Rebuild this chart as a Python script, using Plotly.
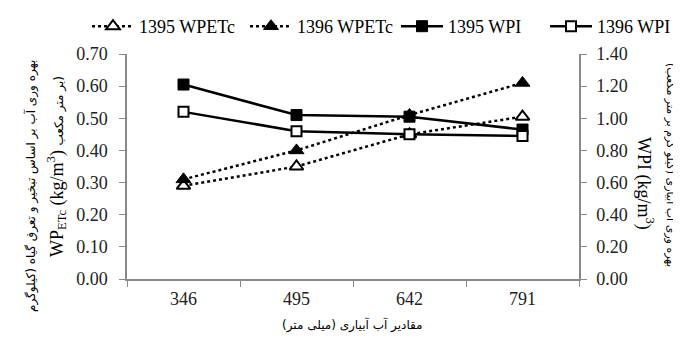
import plotly.graph_objects as go

irrigation = ["346", "495", "642", "791"]
wpetc_1395 = [0.29, 0.35, 0.45, 0.505]
wpetc_1396 = [0.31, 0.40, 0.51, 0.61]
wpi_1395 = [1.21, 1.02, 1.01, 0.93]
wpi_1396 = [1.04, 0.92, 0.90, 0.89]
series_names = ["1395 WPETc", "1396 WPETc", "1395 WPI", "1396 WPI"]

FONT = "Liberation Serif"
# page body has an 8px margin, so the figure is drawn 8px right/down
OFF = 8
W, H = 681 - OFF, 338 - OFF
PL, PR, PT, PB = 127, 579, 54, 279   # plot area in page pixels


def px(xa):
    return (xa - PL) / (PR - PL)


def py(ya):
    return (PB - ya) / (PB - PT)


fig = go.Figure()
fig.add_trace(go.Scatter(
    x=irrigation, y=wpetc_1395, name=series_names[0], mode="lines+markers",
    line=dict(color="black", width=2.5, dash="dot"),
    marker=dict(symbol="triangle-up", size=12, color="white", line=dict(color="black", width=2)),
    yaxis="y", legend="legend"))
fig.add_trace(go.Scatter(
    x=irrigation, y=wpetc_1396, name=series_names[1], mode="lines+markers",
    line=dict(color="black", width=2.5, dash="dot"),
    marker=dict(symbol="triangle-up", size=13, color="black", line=dict(color="black", width=1)),
    yaxis="y", legend="legend2"))
fig.add_trace(go.Scatter(
    x=irrigation, y=wpi_1395, name=series_names[2], mode="lines+markers",
    line=dict(color="black", width=2.5),
    marker=dict(symbol="square", size=11, color="black", line=dict(color="black", width=1)),
    yaxis="y2", legend="legend3"))
fig.add_trace(go.Scatter(
    x=irrigation, y=wpi_1396, name=series_names[3], mode="lines+markers",
    line=dict(color="black", width=2.5),
    marker=dict(symbol="square", size=10, color="white", line=dict(color="black", width=2)),
    yaxis="y2", legend="legend4"))

axis_color = "#8a8a8a"
tick_font = dict(family=FONT, size=18, color="#222222")
legend_common = dict(orientation="h", yanchor="top", xanchor="left", xref="container",
                     yref="container", y=1.0,
                     font=dict(family=FONT, size=18, color="black"), itemwidth=42,
                     tracegroupgap=0, bgcolor="rgba(0,0,0,0)")
legend_left = [87, 245, 396, 545]  # page pixels
fig.update_layout(
    width=W, height=H,
    margin=dict(l=PL - OFF, r=W - (PR - OFF), t=PT - OFF, b=H - (PB - OFF), autoexpand=False),
    paper_bgcolor="white", plot_bgcolor="white",
    font=dict(family=FONT, size=18, color="black"),
    showlegend=True,
    legend=dict(x=(legend_left[0] - OFF) / W, **legend_common),
    legend2=dict(x=(legend_left[1] - OFF) / W, **legend_common),
    legend3=dict(x=(legend_left[2] - OFF) / W, **legend_common),
    legend4=dict(x=(legend_left[3] - OFF) / W, **legend_common),
    xaxis=dict(type="category", range=[-0.5, 3.5], tickson="boundaries", ticks="outside", ticklen=6,
               tickcolor=axis_color, showline=True, linecolor=axis_color, linewidth=1.5,
               showgrid=False, zeroline=False, tickfont=tick_font, ticklabelstandoff=3),
    yaxis=dict(range=[0, 0.7], dtick=0.1, tickformat=".2f", ticks="outside", ticklen=6,
               tickcolor=axis_color, showline=True, linecolor=axis_color, linewidth=1.5,
               showgrid=False, zeroline=False, tickfont=tick_font, ticklabelstandoff=8),
    yaxis2=dict(range=[0, 1.4], dtick=0.2, tickformat=".2f", ticks="outside", ticklen=6,
                tickcolor=axis_color, showline=True, linecolor=axis_color, linewidth=1.5,
                showgrid=False, zeroline=False, overlaying="y", side="right",
                tickfont=tick_font, ticklabelstandoff=6),
)

# y-axis titles (left)
fig.add_annotation(text="بهره وری آب بر اساس تبخیر و تعرق گیاه (کیلوگرم",
                   xref="paper", yref="paper", x=px(31), y=py(186),
                   xanchor="center", yanchor="middle", textangle=-90, showarrow=False,
                   font=dict(family="DejaVu Sans", size=12, color="black"))
fig.add_annotation(text="WP<sub>ETc</sub> (kg/m<sup>3</sup>) <span style='font-family:DejaVu Sans;font-size:12px'>بر متر مکعب)</span>",
                   xref="paper", yref="paper", x=px(56), y=py(167),
                   xanchor="center", yanchor="middle", textangle=-90, showarrow=False,
                   font=dict(family=FONT, size=18, color="black"))
# right titles
fig.add_annotation(text="WPI (kg/m<sup>3</sup>)",
                   xref="paper", yref="paper", x=px(645), y=py(183),
                   xanchor="center", yanchor="middle", textangle=90, showarrow=False,
                   font=dict(family=FONT, size=18, color="black"))
fig.add_annotation(text="بهره وری آب آبیاری (کیلو گرم بر متر مکعب)",
                   xref="paper", yref="paper", x=px(671), y=py(165),
                   xanchor="center", yanchor="middle", textangle=90, showarrow=False,
                   font=dict(family="DejaVu Sans", size=11, color="black"))
# x title
fig.add_annotation(text="مقادیر آب آبیاری (میلی متر)",
                   xref="paper", yref="paper", x=px(352), y=py(325),
                   xanchor="center", yanchor="middle", showarrow=False,
                   font=dict(family="DejaVu Sans", size=12, color="black"))

fig.write_html("out.html")
